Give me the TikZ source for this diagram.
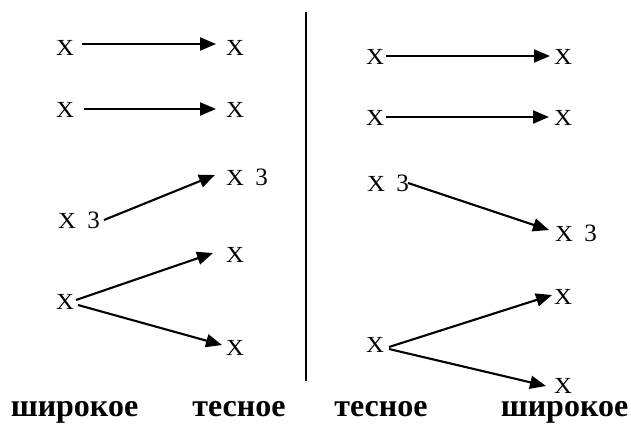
\documentclass[tikz,border=0pt]{standalone}
\usepackage{fontspec}
\setmainfont{Liberation Serif}
\usetikzlibrary{arrows.meta}
\tikzset{
  xl/.style={inner sep=0pt, font=\fontsize{23}{25}\selectfont},
  lab/.style={inner sep=0pt, anchor=base, font=\fontsize{32}{34}\selectfont\bfseries},
  arr/.style={line width=2.1pt, -{Triangle[length=16pt,width=13pt]}},
  sep/.style={line width=1.4pt}
}
\newcommand{\wx}{\scalebox{1.08}[1]{X}}
\newcommand{\xthree}{\wx\hspace{0.5em}{\fontsize{25}{27}\selectfont 3}}
\begin{document}
\begin{tikzpicture}[x=1pt,y=-1pt]
\useasboundingbox (0,0) rectangle (631,423);
% left side
\node[xl] (l1a) at (65,48) {\wx};
\node[xl] (l1b) at (235,48) {\wx};
\node[xl] (l2a) at (65,110) {\wx};
\node[xl] (l2b) at (235,110) {\wx};
\node[xl] (l3a) at (79,220) {\xthree};
\node[xl] (l3b) at (247,177) {\xthree};
\node[xl] (l4a) at (65,302) {\wx};
\node[xl] (l4b) at (235,255) {\wx};
\node[xl] (l4c) at (235,348) {\wx};
% right side
\node[xl] (r1a) at (375,57) {\wx};
\node[xl] (r1b) at (563,57) {\wx};
\node[xl] (r2a) at (375,118) {\wx};
\node[xl] (r2b) at (563,118) {\wx};
\node[xl] (r3a) at (388,183) {\xthree};
\node[xl] (r3b) at (576,233) {\xthree};
\node[xl] (r4a) at (375,345) {\wx};
\node[xl] (r4b) at (563,297) {\wx};
\node[xl] (r4c) at (563,386) {\wx};
% arrow end points
\coordinate (a1s) at (82,44);   \coordinate (a1e) at (216,44);
\coordinate (a2s) at (84,109);  \coordinate (a2e) at (216,109);
\coordinate (a3s) at (104,220); \coordinate (a3e) at (215,175);
\coordinate (a4s) at (76,300);  \coordinate (a4e) at (213,253);
\coordinate (a5s) at (78,305);  \coordinate (a5e) at (222,345);
\coordinate (b1s) at (386,56);  \coordinate (b1e) at (550,56);
\coordinate (b2s) at (386,117); \coordinate (b2e) at (549,117);
\coordinate (b3s) at (408,183); \coordinate (b3e) at (549,230);
\coordinate (b4s) at (389,347); \coordinate (b4e) at (552,295);
\coordinate (b5s) at (389,349); \coordinate (b5e) at (546,386);
\draw[arr] (a1s) -- (a1e);
\draw[arr] (a2s) -- (a2e);
\draw[arr] (a3s) -- (a3e);
\draw[arr] (a4s) -- (a4e);
\draw[arr] (a5s) -- (a5e);
\draw[arr] (b1s) -- (b1e);
\draw[arr] (b2s) -- (b2e);
\draw[arr] (b3s) -- (b3e);
\draw[arr] (b4s) -- (b4e);
\draw[arr] (b5s) -- (b5e);
% separator
\coordinate (st) at (306,12);
\coordinate (sb) at (306,381);
\draw[sep] (st) -- (sb);
% bottom labels
\node[lab] (w1) at (74.5,416) {широкое};
\node[lab] (t1) at (239,416) {тесное};
\node[lab] (t2) at (381,416) {тесное};
\node[lab] (w2) at (564.5,416) {широкое};
\end{tikzpicture}
\end{document}
